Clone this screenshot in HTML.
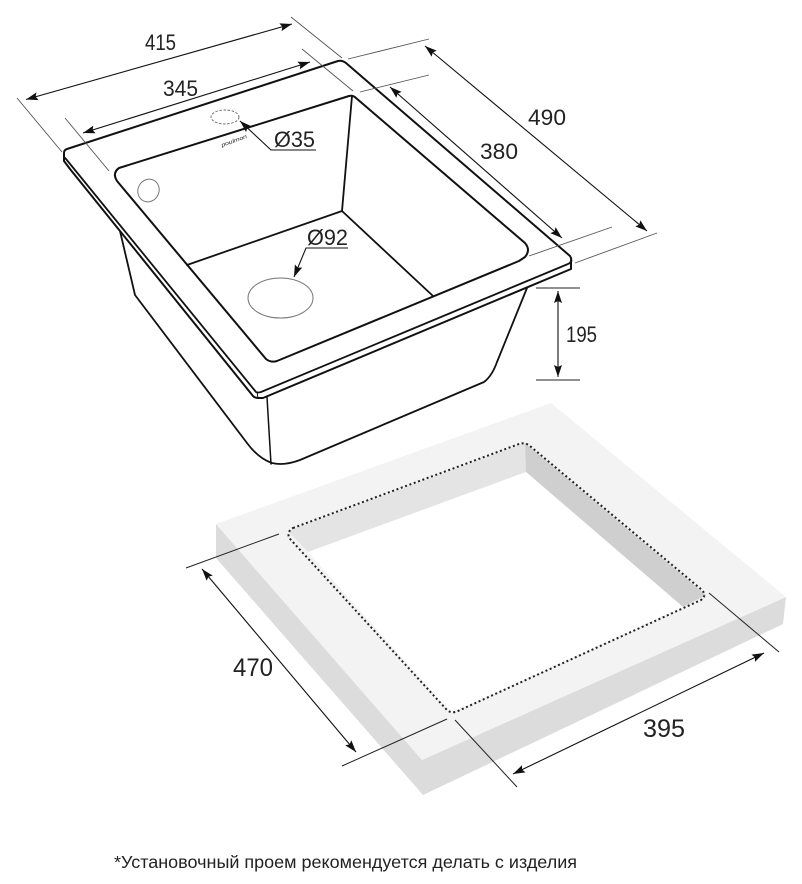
<!DOCTYPE html>
<html><head><meta charset="utf-8"><style>
html,body{margin:0;padding:0;background:#fff}
svg{display:block}
text{font-family:"Liberation Sans",sans-serif;fill:#222}
</style></head><body>
<svg width="802" height="884" viewBox="0 0 802 884" xmlns="http://www.w3.org/2000/svg">
<defs>
<marker id="a" markerUnits="userSpaceOnUse" markerWidth="14" markerHeight="10" refX="12" refY="5" orient="auto-start-reverse"><path d="M0,1 L12,5 L0,9 L2,5z" fill="#111"/></marker>
</defs>
<rect width="802" height="884" fill="#fff"/>

<!-- counter -->
<polygon points="216,524 216,558 423,795 783,624 786,597 422,760" fill="#dcdcdc"/>
<polygon points="216,524 551,403 786,597 422,760" fill="#f3f3f3"/>
<polygon points="288,531 525,443 526,472 308,552" fill="#e4e4e4"/>
<polygon points="525,443 706,595 683,607 526,472" fill="#cfcfcf"/>
<polygon points="308,552 526,472 683,607 451,713" fill="#fff"/>
<path d="M293,528 L519,444 Q525,442 530,446 L702,590 Q707,596 701,600 L458,711 Q452,714 447,710 L291,540 Q285,533 293,528Z" fill="none" stroke="#222" stroke-width="2" stroke-dasharray="2 2.600"/>

<!-- sink body -->
<g fill="none" stroke="#111" stroke-linejoin="round" stroke-linecap="round">
<path d="M120,231 L135,295 L247,443 Q258,458 272,463 Q284,466 300,460 L484,382 Q492,376 497,362 L527,288" stroke-width="1.8"/>
<path d="M267,397 L271,464" stroke-width="1.500"/>
<!-- rim -->
<path d="M67,149 L338,61 Q342,60 346,63 L570,256 Q572,259 571,262 L571,269 L263,398 L258,398 Q255,398 253,396 L70,169 L64,161 L64,153 Q64,150 67,149Z" stroke-width="2"/>
<path d="M64,157 L66,159 L256,392 Q258,393 261,392 L568,264 Q571,263 571,260" stroke-width="1.800"/>
<path d="M257,392 L258,398" stroke-width="1"/>
<!-- bowl -->
<path d="M119,168 L349,96 Q353,95 356,98 L525,243 Q531,250 525,257 Q522,259 519,261 L277,361 Q271,363 266,359 L117,181 Q112,173 119,168Z" stroke-width="2"/>
<path d="M352,96 L342,211 L187,265" stroke-width="1.800"/>
<path d="M342,211 L433,296" stroke-width="1.800"/>
</g>

<!-- grey circles -->
<ellipse cx="280.5" cy="298" rx="32.5" ry="20" fill="none" stroke="#777" stroke-width="1"/>
<ellipse cx="148.5" cy="190.500" rx="10.500" ry="11.500" fill="none" stroke="#777" stroke-width="1" transform="rotate(25 148.5 190.5)"/>
<ellipse cx="225" cy="117" rx="14" ry="7" fill="none" stroke="#666" stroke-width="0.9" stroke-dasharray="2.5 1.6"/>
<text x="222" y="147" font-size="5.500" font-style="italic" transform="rotate(-20 222 147)" textLength="27" lengthAdjust="spacingAndGlyphs">poulmon</text>

<!-- extension lines -->
<g stroke="#555" stroke-width="0.9" fill="none">
<path d="M17,98 L62,152"/><path d="M291,17 L342,58"/>
<path d="M65,118 L109,171"/><path d="M302,49 L353,91"/>
<path d="M348,59 L429,39"/><path d="M360,92 L429,75"/>
<path d="M529,256 L612,227"/><path d="M575,263 L657,233"/>
</g>
<g stroke="#222" stroke-width="1" fill="none">
<path d="M536,288 L580,288"/><path d="M536,380 L580,380"/>
<path d="M186,568 L279,534"/><path d="M342,766 L447,719"/>
<path d="M455,720 L517,787"/><path d="M709,593 L779,652"/>
</g>

<!-- dimension lines -->
<g stroke="#111" stroke-width="1.100" fill="none">
<path d="M26,99.500 L292,24" marker-start="url(#a)" marker-end="url(#a)"/>
<path d="M83,133 L310,62" marker-start="url(#a)" marker-end="url(#a)"/>
<path d="M425,46 L647,231" marker-start="url(#a)" marker-end="url(#a)"/>
<path d="M390,87 L562,238" marker-start="url(#a)" marker-end="url(#a)"/>
<path d="M558,291 L558,377" marker-start="url(#a)" marker-end="url(#a)"/>
<path d="M202,569 L356,752" marker-start="url(#a)" marker-end="url(#a)"/>
<path d="M513,774 L764,653" marker-start="url(#a)" marker-end="url(#a)"/>
<path d="M316,150 L271,150 L240,121" marker-end="url(#a)"/>
<path d="M348,248 L306,248 L294,277" marker-end="url(#a)"/>
</g>

<!-- labels -->
<g font-size="22">
<text x="145" y="50" textLength="31" lengthAdjust="spacingAndGlyphs">415</text>
<text x="163" y="96" textLength="35" lengthAdjust="spacingAndGlyphs">345</text>
<text x="274" y="147" textLength="41" lengthAdjust="spacingAndGlyphs">Ø35</text>
<text x="307" y="245" textLength="41" lengthAdjust="spacingAndGlyphs">Ø92</text>
<text x="528" y="125" textLength="38" lengthAdjust="spacingAndGlyphs">490</text>
<text x="480" y="159" textLength="38" lengthAdjust="spacingAndGlyphs">380</text>
<text x="566" y="342" textLength="31" lengthAdjust="spacingAndGlyphs">195</text>
</g>
<g font-size="25">
<text x="233" y="676" textLength="40" lengthAdjust="spacingAndGlyphs">470</text>
<text x="643" y="737" textLength="42" lengthAdjust="spacingAndGlyphs">395</text>
</g>
<text x="114" y="868" font-size="17.500" textLength="463" lengthAdjust="spacingAndGlyphs">*Установочный проем рекомендуется делать с изделия</text>
</svg>
</body></html>
